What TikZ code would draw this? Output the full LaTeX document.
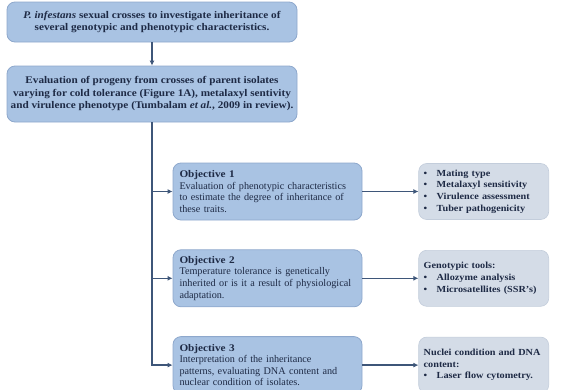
\documentclass[tikz,border=0pt]{standalone}
\usepackage{fontspec}
\setmainfont{Liberation Serif}[BoldFeatures={FakeStretch=1.1}, BoldItalicFeatures={FakeStretch=1.1}]
\usepackage{xcolor}
\usetikzlibrary{arrows.meta, positioning}

\definecolor{boxblue}{HTML}{A9C3E3}
\definecolor{boxedge}{HTML}{8EA8CC}
\definecolor{toolgray}{HTML}{D4DCE7}
\definecolor{tooledge}{HTML}{C3CDDB}
\definecolor{inkblue}{HTML}{1E2A45}
\definecolor{linkblue}{HTML}{3E5679}

\newcommand{\bul}[1]{\makebox[13pt][l]{\textbullet}#1}

\begin{document}
\begin{tikzpicture}[
		x=1pt, y=-1pt,
		node distance=30pt and 56pt,
		every node/.style={font=\fontsize{10.2}{11.6}\selectfont, text=inkblue},
		mainbox/.style={rectangle, draw=boxedge, fill=boxblue, rounded corners=8pt, line width=0.8pt, minimum width=290pt, align=center, font=\bfseries\fontsize{10.2}{12.5}\selectfont},
		objbox/.style={rectangle, draw=boxedge, fill=boxblue, rounded corners=8pt, line width=0.8pt, minimum width=189pt, minimum height=57pt, text width=176pt, align=left},
		toolbox/.style={rectangle, draw=tooledge, fill=toolgray, rounded corners=8pt, line width=0.6pt, minimum width=130pt, minimum height=56pt, inner xsep=5pt, text width=120pt, align=left, font=\bfseries\fontsize{9.3}{11.6}\selectfont},
		arrow/.style={-{Latex[length=5pt, width=5pt]}, line width=1.3pt, draw=linkblue}
		]
		\useasboundingbox (0,0) rectangle (574,389);
		\clip (0,0) rectangle (574,389);
		
		% Nodes
		\node[mainbox, minimum height=40pt] (crosses) at (152,22) {\textit{P. infestans} sexual crosses to investigate inheritance of\\several genotypic and phenotypic characteristics.};
		\node[mainbox, minimum height=56pt] (progeny) at (152,94) {Evaluation of progeny from crosses of parent isolates\\varying for cold tolerance (Figure 1A), metalaxyl sentivity\\and virulence phenotype (Tumbalam \textit{et al.}, 2009 in review).};
		
		\node[objbox] (obj1) at (267.5,191.5) {\textbf{Objective 1}\\Evaluation of phenotypic characteristics\\to estimate the degree of inheritance of\\these traits.};
		\node[objbox, below=29pt of obj1] (obj2) {\textbf{Objective 2}\\Temperature tolerance is genetically\\inherited or is it a result of physiological\\adaptation.};
		\node[objbox, below=29pt of obj2] (obj3) {\textbf{Objective 3}\\Interpretation of the inheritance\\patterns, evaluating DNA content and\\nuclear condition of isolates.};
		
		\node[toolbox, right=56pt of obj1] (traits) {\bul{Mating type}\\\bul{Metalaxyl sensitivity}\\\bul{Virulence assessment}\\\bul{Tuber pathogenicity}};
		\node[toolbox, right=56pt of obj2] (genotypic) {Genotypic tools:\\\bul{Allozyme analysis}\\\bul{Microsatellites (SSR's)}};
		\node[toolbox, right=56pt of obj3] (nuclei) {Nuclei condition and DNA\\content:\\\bul{Laser flow cytometry.}};
		
		% Connection arrows
		\draw[arrow] (crosses) -- (progeny);
		\draw[arrow] (progeny.south) |- (obj1.west);
		\draw[arrow] (progeny.south) |- (obj2.west);
		\draw[arrow] (progeny.south) |- (obj3.west);
		
		\draw[arrow] (obj1) -- (traits);
		\draw[arrow] (obj2) -- (genotypic);
		\draw[arrow] (obj3) -- (nuclei);
		
	\end{tikzpicture}
\end{document}
